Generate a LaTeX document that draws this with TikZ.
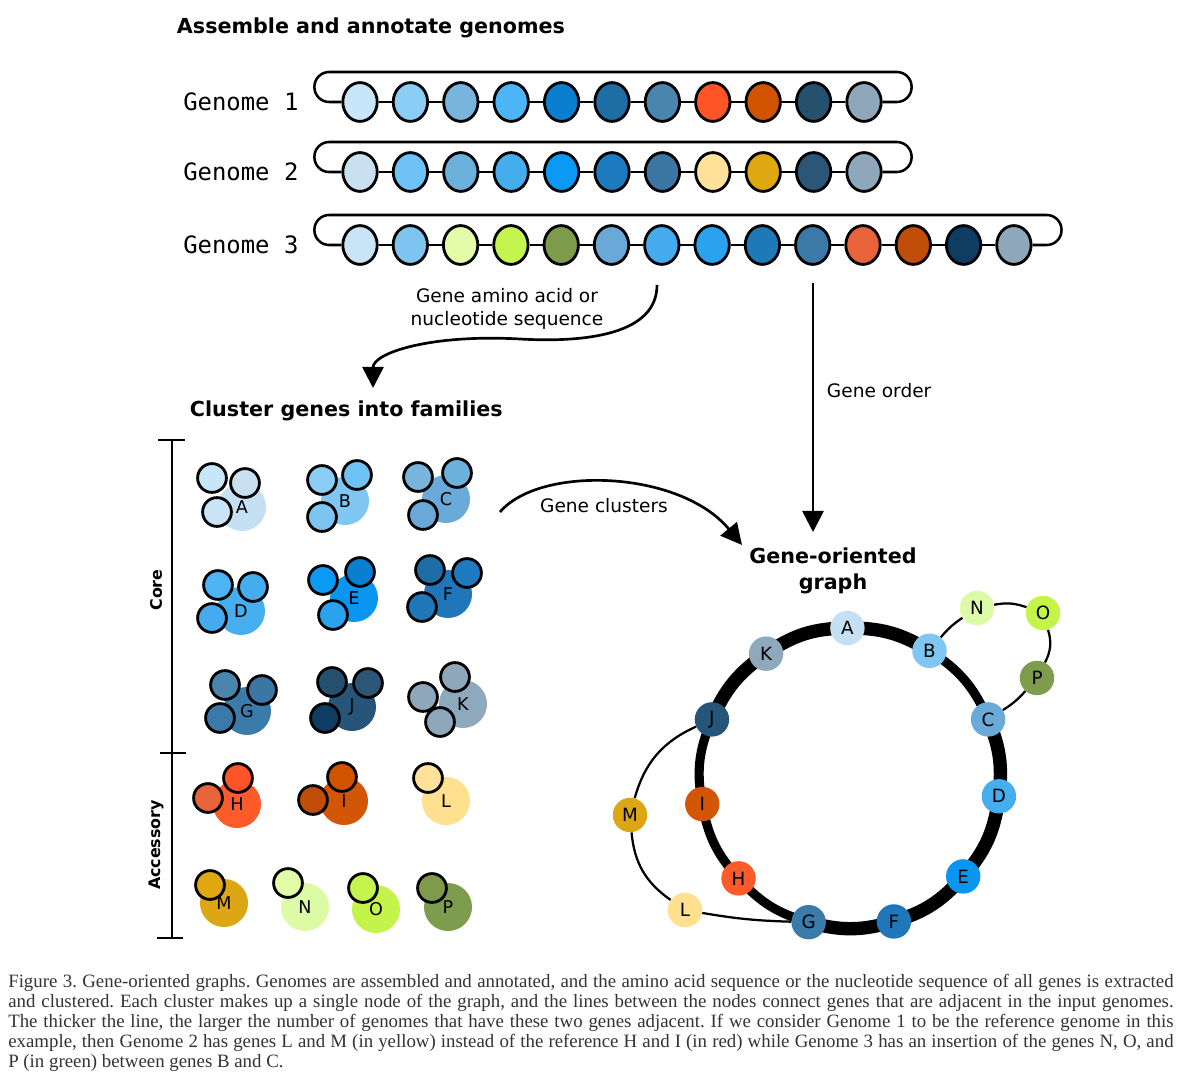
\documentclass[tikz,border=0pt]{standalone}
\usepackage{fontspec}
\setmainfont{DejaVu Sans}
\newfontfamily\genomefont{DejaVu Sans Mono}
\newfontfamily\captionfont{Liberation Serif}
\usetikzlibrary{arrows.meta,positioning,calc,backgrounds,shapes.geometric}

\definecolor{fA}{HTML}{C6E0F3}
\definecolor{fB}{HTML}{7FC6F2}
\definecolor{fC}{HTML}{6AAAD8}
\definecolor{fD}{HTML}{46ADEE}
\definecolor{fE}{HTML}{0A96F0}
\definecolor{fF}{HTML}{1F76B8}
\definecolor{fG}{HTML}{3B7BAA}
\definecolor{fH}{HTML}{FF5A2A}
\definecolor{fI}{HTML}{D25606}
\definecolor{fJ}{HTML}{27557A}
\definecolor{fK}{HTML}{8EA8BC}
\definecolor{fL}{HTML}{FFE08F}
\definecolor{fM}{HTML}{DCA614}
\definecolor{fN}{HTML}{DDFBA6}
\definecolor{fO}{HTML}{C4F44A}
\definecolor{fP}{HTML}{7E9C4D}
\definecolor{captext}{HTML}{333333}

\tikzset{
  heading/.style={font=\bfseries\fontsize{14.7}{18.4}\selectfont, align=center},
  glabel/.style={font=\genomefont\fontsize{17}{19}\selectfont},
  gene/.style={draw, ellipse, line width=2pt, minimum width=0.86cm, minimum height=0.97cm, inner sep=0pt},
  link/.style={line width=2pt},
  capsule/.style={line width=1.8pt, rounded corners=0.37cm},
  flow/.style={-{Triangle[length=15pt,width=15pt]}, line width=1.9pt},
  flabel/.style={font=\fontsize{13.2}{16.3}\selectfont, align=center},
  fam/.style={circle, minimum size=1.2cm, inner sep=0pt, font=\fontsize{12.5}{14}\selectfont},
  member/.style={draw, circle, line width=2pt, minimum size=0.72cm, inner sep=0pt},
  gnode/.style={circle, minimum size=0.86cm, inner sep=0pt, font=\fontsize{13}{15}\selectfont},
  three/.style={line width=9.5pt},
  two/.style={line width=6.5pt},
  one/.style={line width=1.6pt},
  tick/.style={line width=2pt},
  side/.style={font=\bfseries\fontsize{11.3}{13}\selectfont, rotate=90},
  capbox/.style={font=\captionfont\fontsize{13.4}{14.2}\selectfont\frenchspacing, text width=29.125cm, align=justify, inner sep=0pt, text=captext},
}

\begin{document}
\begin{tikzpicture}[x=0.025cm,y=0.025cm]
\useasboundingbox (0,0) rectangle (1200,-1089);
\begin{scope}[on background layer]
\fill[white] (0,0) rectangle (1200,-1089);
\end{scope}

% step 1: genomes
\node[heading, anchor=west] (asmtitle) at (172,-28) {Assemble and annotate genomes};

\foreach \hex [count=\i] in {C8E6FA,8BCDF5,78B4DC,4DB5F5,0A7ECF,1F6DA5,4A85AE,FF5526,D15300,25506E,8EA7BA}{
  \definecolor{gc}{HTML}{\hex}
  \node[gene, fill=gc] (r1-\i) at ({360+50.4*(\i-1)},-102) {};
}
\foreach \hex [count=\i] in {C8E0F0,6EC2F5,6CB0DC,45ADEE,0A9AF5,1E7ABE,3C77A3,FFE19A,E0A810,2C5678,8EA7BA}{
  \definecolor{gc}{HTML}{\hex}
  \node[gene, fill=gc] (r2-\i) at ({360+50.4*(\i-1)},-172) {};
}
\foreach \hex [count=\i] in {C8E4F6,7EC4F0,E2FCA8,C4F54E,7E9B4B,6AA8D7,46AAEE,2AA2EE,1F78B8,3A79A8,E8633A,C04E08,0E3C62,8EA7BA}{
  \definecolor{gc}{HTML}{\hex}
  \node[gene, fill=gc] (r3-\i) at ({360+50.3*(\i-1)},-245) {};
}
\foreach \i [evaluate=\i as \j using int(\i+1)] in {1,...,10}{
  \draw[link] (r1-\i) -- (r1-\j);
  \draw[link] (r2-\i) -- (r2-\j);
}
\foreach \i [evaluate=\i as \j using int(\i+1)] in {1,...,13}
  \draw[link] (r3-\i) -- (r3-\j);

\draw[capsule] (r1-1.west) -- ++(-27,0) |- ($(r1-11.east)+(29,30)$) |- (r1-11.east);
\draw[capsule] (r2-1.west) -- ++(-27,0) |- ($(r2-11.east)+(29,30)$) |- (r2-11.east);
\draw[capsule] (r3-1.west) -- ++(-27,0) |- ($(r3-14.east)+(29,30)$) |- (r3-14.east);

\node[glabel, left=0.95cm of r1-1] (lab1) {Genome 1};
\node[glabel, left=0.95cm of r2-1] (lab2) {Genome 2};
\node[glabel, left=0.95cm of r3-1] (lab3) {Genome 3};

% arrows out of the genomes
\coordinate (seqfrom) at (657,-285);
\coordinate (seqbend) at (520,-339);
\coordinate (seqto) at (373,-388);
\draw[flow] (seqfrom) .. controls +(0,-48) and +(70,-4) .. (seqbend) .. controls +(-90,5) and +(0,35) .. (seqto);
\node[flabel] (seqlab) at (507,-309) {Gene amino acid or\\nucleotide sequence};

\coordinate (orderfrom) at (813,-283);
\coordinate (orderto) at (813,-532);
\draw[flow] (orderfrom) -- (orderto);
\node[flabel, anchor=west] (orderlab) at (822,-391) {Gene order};

% step 2: clusters
\node[heading, anchor=west] (clustitle) at (185,-411) {Cluster genes into families};

\foreach \f/\k/\x/\y/\hex in {
  A/1/212/478/C8E6FA, A/2/245/483/C8E0F0, A/3/217/512/C8E4F6,
  B/1/322/480/8BCDF5, B/2/357/475/6EC2F5, B/3/322/517/7EC4F0,
  C/1/418/477/78B4DC, C/2/457/473/6CB0DC, C/3/423/515/6AA8D7,
  D/1/218/585/4DB5F5, D/2/253/587/45ADEE, D/3/212/618/46AAEE,
  E/1/323/580/0A9AF5, E/2/360/572/0A7ECF, E/3/333/615/2AA2EE,
  F/1/430/570/1F6DA5, F/2/467/573/1E7ABE, F/3/422/607/1F78B8,
  G/1/225/685/4A85AE, G/2/262/690/3C77A3, G/3/220/718/3A79A8,
  J/1/332/682/25506E, J/2/368/683/2C5678, J/3/325/718/0E3C62,
  K/1/423/697/8EA7BA, K/2/455/677/8EA7BA, K/3/440/722/8EA7BA,
  H/1/238/778/FF5526, H/3/208/798/E8633A,
  I/1/342/777/D15300, I/3/313/800/C04E08,
  L/2/428/778/FFE19A, M/2/210/885/E0A810,
  N/3/288/883/E2FCA8, O/3/363/888/C4F54E, P/3/432/888/7E9B4B}{
  \definecolor{mc}{HTML}{\hex}
  \node[member, fill=mc] (m\f\k) at (\x,-\y) {};
}
\begin{scope}[on background layer]
\foreach \f/\x/\y in {A/242/507, B/345/501, C/446/499, D/241/611, E/354/598, F/448/594,
  G/247/711, J/352/707, K/463/704, H/237/804, I/344/801, L/446/801,
  M/224/903, N/305/907, O/376/909, P/448/907}
  \node[fam, fill=f\f] (f\f) at (\x,-\y) {\f};
\end{scope}

\coordinate (brtop) at (172,-440);
\coordinate (brmid) at (172,-753);
\coordinate (brbot) at (172,-938);
\draw[tick] (brtop) -- (brbot);
\draw[tick] ($(brtop)+(-14,0)$) -- ++(27,0);
\draw[tick] ($(brmid)+(-12,0)$) -- ++(26,0);
\draw[tick] ($(brbot)+(-15,0)$) -- ++(26,0);
\node[side] (corelab) at (156,-590) {Core};
\node[side] (acclab) at (156,-845) {Accessory};

\coordinate (clfrom) at (500,-512);
\coordinate (clto) at (742,-545);
\draw[flow] (clfrom) .. controls +(40,47) and +(-62,75) .. (clto);
\node[flabel] (cllab) at (604,-506) {Gene clusters};

% step 3: graph
\node[heading] (graphtitle) at (833,-571) {Gene-oriented\\graph};

\coordinate (hub) at (850,-778);
\node[gnode, fill=fA] (A) at ($(hub)+(91:150)$) {A};
\node[gnode, fill=fB] (B) at ($(hub)+(58:150)$) {B};
\node[gnode, fill=fC] (C) at ($(hub)+(23:150)$) {C};
\node[gnode, fill=fD] (D) at ($(hub)+(-7:150)$) {D};
\node[gnode, fill=fE] (E) at ($(hub)+(-41:150)$) {E};
\node[gnode, fill=fF] (F) at ($(hub)+(-73:150)$) {F};
\node[gnode, fill=fG] (G) at ($(hub)+(-106:150)$) {G};
\node[gnode, fill=fH] (H) at ($(hub)+(-138:150)$) {H};
\node[gnode, fill=fI] (I) at ($(hub)+(-170:150)$) {I};
\node[gnode, fill=fJ] (J) at ($(hub)+(157:150)$) {J};
\node[gnode, fill=fK] (K) at ($(hub)+(124:150)$) {K};
\node[gnode, fill=fN] (N) at (977,-608) {N};
\node[gnode, fill=fO] (O) at (1043,-613) {O};
\node[gnode, fill=fP] (P) at (1037,-678) {P};
\node[gnode, fill=fM] (M) at (630,-815) {M};
\node[gnode, fill=fL] (L) at (685,-910) {L};

\begin{scope}[on background layer]
\draw[three] (A.center) to[bend left=16] (B.center);
\draw[two] (B.center) to[bend left=17] (C.center);
\draw[three] (C.center) to[bend left=15] (D.center);
\draw[three] (D.center) to[bend left=17] (E.center);
\draw[three] (E.center) to[bend left=16] (F.center);
\draw[three] (F.center) to[bend left=16] (G.center);
\draw[two] (G.center) to[bend left=16] (H.center);
\draw[two] (H.center) to[bend left=16] (I.center);
\draw[two] (I.center) to[bend left=17] (J.center);
\draw[three] (J.center) to[bend left=16] (K.center);
\draw[three] (K.center) to[bend left=17] (A.center);
\draw[one] (B) to[bend left=8] (N);
\draw[one] (N) to[bend left=15] (O);
\draw[one] (O) to[bend left=22] (P);
\draw[one] (P) to[bend left=8] (C);
\draw[one] (J) to[bend right=25] (M);
\draw[one] (M) to[bend right=25] (L);
\draw[one] (L) to[bend right=4] (G);
\end{scope}

% caption
\node[capbox, anchor=north west] (caption) at (8,-974) {Figure 3. Gene-oriented graphs. Genomes are assembled and annotated, and the amino acid sequence or the nucleotide sequence of all genes is extracted\linebreak
and clustered. Each cluster makes up a single node of the graph, and the lines between the nodes connect genes that are adjacent in the input genomes.\linebreak
The thicker the line, the larger the number of genomes that have these two genes adjacent. If we consider Genome 1 to be the reference genome in this\linebreak
example, then Genome 2 has genes L and M (in yellow) instead of the reference H and I (in red) while Genome 3 has an insertion of the genes N, O, and\linebreak
P (in green) between genes B and C.};
\end{tikzpicture}
\end{document}
